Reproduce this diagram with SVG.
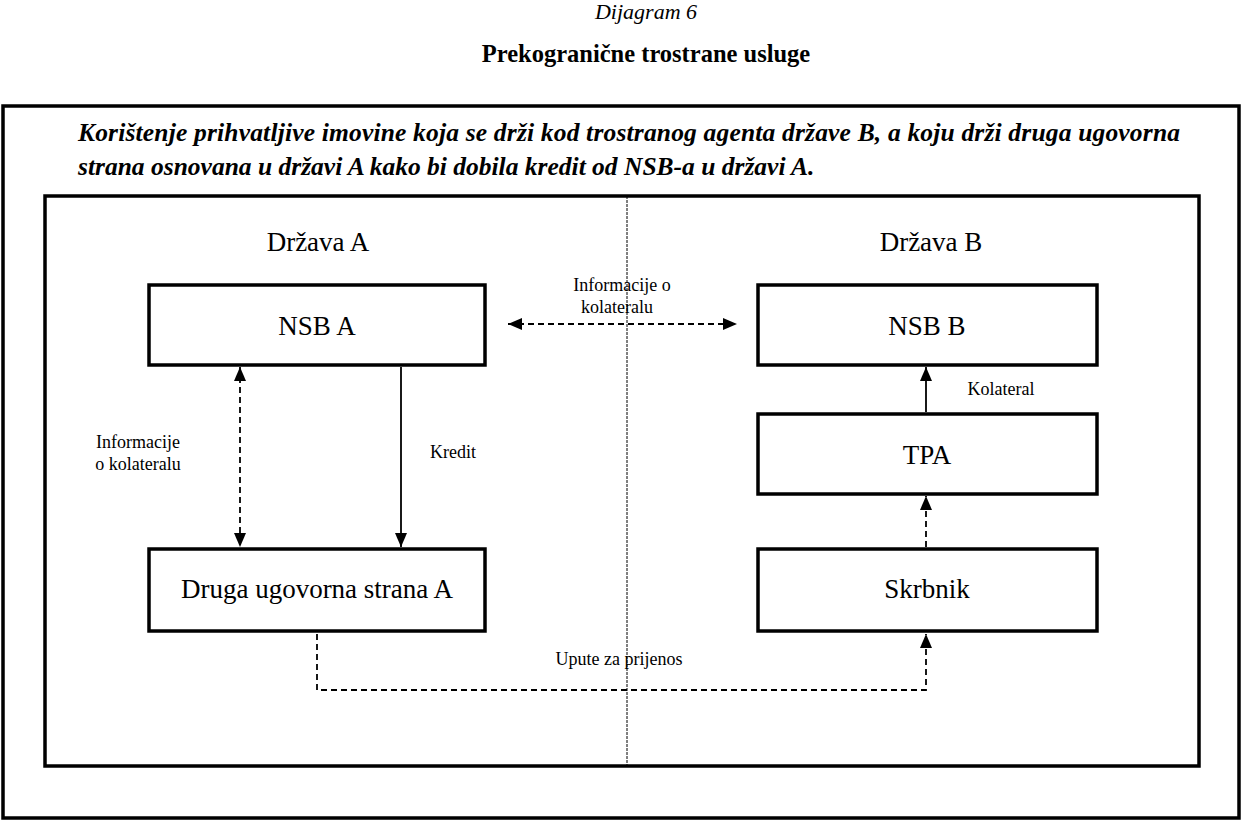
<svg xmlns="http://www.w3.org/2000/svg" width="1243" height="821" viewBox="0 0 1243 821">
<defs>
<marker id="ah" viewBox="0 0 14 12" refX="14" refY="6" markerWidth="14" markerHeight="12" markerUnits="userSpaceOnUse" orient="auto-start-reverse"><path d="M0,0 L14,6 L0,12 Z" fill="#000"/></marker>
</defs>
<style>
text{font-family:"Liberation Serif",serif;fill:#000}
.box{fill:#fff;stroke:#000;stroke-width:3.5}
.frame{fill:none;stroke:#000;stroke-width:3.5}
.lbl{font-size:27px;text-anchor:middle}
.sm{font-size:18px;text-anchor:middle}
.hd{font-size:25.5px;font-weight:bold;font-style:italic}
.solid{fill:none;stroke:#000;stroke-width:1.8}
.dash{fill:none;stroke:#000;stroke-width:1.8;stroke-dasharray:6,4}
</style>
<rect width="1243" height="821" fill="#fff"/>
<text x="646" y="19" font-size="22" font-style="italic" text-anchor="middle">Dijagram 6</text>
<text x="646" y="62" font-size="24.5" font-weight="bold" text-anchor="middle">Prekogranične trostrane usluge</text>
<rect class="frame" x="3" y="106" width="1236" height="712"/>
<text x="78" y="141" class="hd" textLength="1102" lengthAdjust="spacing">Korištenje prihvatljive imovine koja se drži kod trostranog agenta države B, a koju drži druga ugovorna</text>
<text x="78" y="175" class="hd">strana osnovana u državi A kako bi dobila kredit od NSB-a u državi A.</text>
<rect class="frame" x="45" y="196" width="1154" height="570"/>
<line x1="627" y1="196" x2="627" y2="766" stroke="#000" stroke-width="1" stroke-dasharray="3,1"/>
<text x="318" y="251" class="lbl">Država A</text>
<text x="931" y="251" class="lbl">Država B</text>
<g id="connectors">
<line class="dash" x1="508" y1="324" x2="737" y2="324" marker-start="url(#ah)" marker-end="url(#ah)"/>
<line class="dash" x1="240" y1="367" x2="240" y2="547" marker-start="url(#ah)" marker-end="url(#ah)"/>
<line class="solid" x1="401" y1="367" x2="401" y2="547" marker-end="url(#ah)"/>
<line class="solid" x1="926" y1="412" x2="926" y2="367" marker-end="url(#ah)"/>
<line class="dash" x1="926" y1="547" x2="926" y2="496" marker-end="url(#ah)"/>
<polyline class="dash" points="317,634 317,690 926,690 926,634" marker-end="url(#ah)"/>
<text x="622" y="291" class="sm">Informacije o</text>
<text x="617" y="313" class="sm">kolateralu</text>
<text x="138" y="448" class="sm">Informacije</text>
<text x="138" y="470" class="sm">o kolateralu</text>
<text x="453" y="458" class="sm">Kredit</text>
<text x="1001" y="395" class="sm">Kolateral</text>
<text x="619" y="665" class="sm">Upute za prijenos</text>
</g>
<g id="nsb-a"><rect class="box" x="149" y="285" width="336" height="80"/><text x="317" y="335" class="lbl">NSB A</text></g>
<g id="nsb-b"><rect class="box" x="758" y="285" width="339" height="80"/><text x="927" y="335" class="lbl">NSB B</text></g>
<g id="tpa"><rect class="box" x="758" y="414" width="339" height="80"/><text x="927" y="464" class="lbl">TPA</text></g>
<g id="druga"><rect class="box" x="149" y="549" width="336" height="82"/><text x="317" y="598" class="lbl">Druga ugovorna strana A</text></g>
<g id="skrbnik"><rect class="box" x="758" y="549" width="339" height="82"/><text x="927" y="598" class="lbl">Skrbnik</text></g>
</svg>
